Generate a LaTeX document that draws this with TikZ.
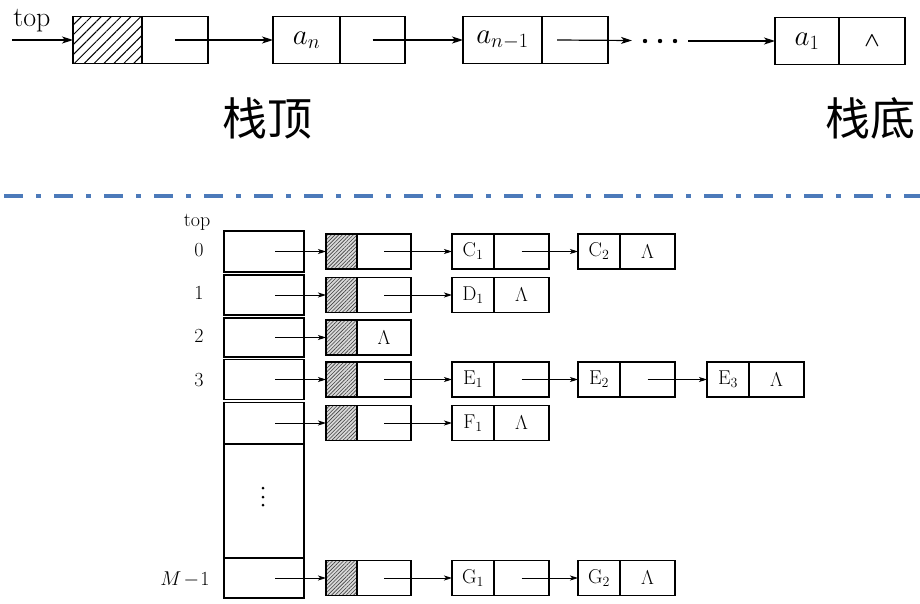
\RequirePackage{fix-cm}
\documentclass[tikz,border=0pt]{standalone}
\usepackage{fontspec}
\usepackage{amsmath}
\usepackage{xcolor}
\usepackage{tikz}
\usetikzlibrary{positioning,arrows.meta,patterns.meta}
\newfontfamily\cjk{Noto Sans CJK SC}
\definecolor{sepblue}{RGB}{76,122,186}

\tikzset{
  bigcell/.style={draw, line width=1.8pt, minimum height=47pt, inner sep=0pt, outer sep=0pt, font=\fontsize{29}{32}\selectfont},
  smallcell/.style={draw, line width=1.3pt, minimum height=35pt, inner sep=0pt, outer sep=0pt, font=\fontsize{20}{22}\selectfont},
  slot/.style={draw, line width=1.4pt, minimum width=80pt, inner sep=0pt, outer sep=0pt},
  bighatch/.style={pattern={Lines[angle=45,distance=7pt,line width=1pt]}},
  smallhatch/.style={preaction={fill=gray!30}, pattern={Lines[angle=45,distance=2.6pt,line width=0.6pt]}, pattern color=black!75},
  bigptr/.style={-{Stealth[length=11pt,width=7pt,inset=3pt]}, line width=1.2pt},
  ptr/.style={-{Stealth[length=8pt,width=5pt,inset=2pt]}, line width=0.9pt},
  lbl/.style={font=\fontsize{20}{22}\selectfont},
}

\begin{document}
\begin{tikzpicture}[x=1pt,y=-1pt]
        \useasboundingbox (0,0) rectangle (920,603);

        % linked stack
        \node[font=\fontsize{28}{30}\selectfont] (toptxt) at (32,21) {top};
        \coordinate (topin) at (12,40);
        \node[bigcell, bighatch, minimum width=69pt] (hd) at (107.5,40) {};
        \node[bigcell, minimum width=66pt, right=0pt of hd] (hdp) {};
        \node[bigcell, minimum width=67pt] (an) at (306.5,40) {$a_n$};
        \node[bigcell, minimum width=65pt, right=0pt of an] (anp) {};
        \node[bigcell, minimum width=79pt] (am) at (502.5,40) {$a_{n-1}$};
        \node[bigcell, minimum width=66pt, right=0pt of am] (amp) {};
        \node[bigcell, minimum width=64pt] (ao) at (807,41) {$a_1$};
        \node[bigcell, minimum width=66pt, right=0pt of ao, font=\fontsize{20}{22}\selectfont\boldmath] (aop) {$\wedge$};
        \coordinate (dotsin) at (632,40.5);
        \coordinate (dotsout) at (688,41);

        \draw [bigptr] (topin) -- (hd.west);
        \draw [bigptr] (hdp.center) -- (an.west);
        \draw [bigptr] (anp.center) -- (am.west);
        \draw [bigptr] ([xshift=-18pt]amp.center) -- (dotsin);
        \fill (645,41) circle (2.2pt) (660,41) circle (2.2pt) (675,41) circle (2.2pt);
        \draw [bigptr] (dotsout) -- (ao.west);

        \node[font=\cjk\fontsize{45}{50}\selectfont] (stop) at (267,118) {栈顶};
        \node[font=\cjk\fontsize{45}{50}\selectfont] (sbot) at (870,118) {栈底};

        % separator
        \draw [sepblue, line width=4pt, dash pattern=on 19pt off 13pt on 5pt off 13pt, dash phase=46pt] (0,196) -- (920,196);

        % shared stack of linked lists
        \node[lbl] (top2) at (197,222) {top};
        \node[lbl] (i0) at (199,250) {0};
        \node[lbl] (i1) at (199,293) {1};
        \node[lbl] (i2) at (199,336) {2};
        \node[lbl] (i3) at (199,380) {3};
        \node[lbl, anchor=east] (im) at (213,579) {$M\mkern2mu{-}\mkern1mu1$};

        \node[slot, minimum height=41pt] (r0) at (264,251.5) {};
        \node[slot, minimum height=40pt] (r1) at (264,295) {};
        \node[slot, minimum height=39pt] (r2) at (264,337.5) {};
        \node[slot, minimum height=40pt] (r3) at (264,379.5) {};
        \node[slot, minimum height=41pt] (r4) at (264,423) {};
        \node[slot, minimum height=114pt] (rd) at (264,501) {};
        \node[slot, minimum height=40pt] (rm) at (264,578) {};
        \fill (263,488) circle (1.5pt) (263,497) circle (1.5pt) (263,505) circle (1.5pt);

        \node[smallcell, smallhatch, minimum width=31pt] (h0) at (341.5,251.5) {};
        \node[smallcell, minimum width=54pt, right=0pt of h0] (h0p) {};
        \node[smallcell, smallhatch, minimum width=31pt] (h1) at (341.5,295) {};
        \node[smallcell, minimum width=54pt, right=0pt of h1] (h1p) {};
        \node[smallcell, smallhatch, minimum width=31pt] (h2) at (341.5,337.5) {};
        \node[smallcell, minimum width=54pt, right=0pt of h2] (h2p) {$\Lambda$};
        \node[smallcell, smallhatch, minimum width=31pt] (h3) at (341.5,379.5) {};
        \node[smallcell, minimum width=54pt, right=0pt of h3] (h3p) {};
        \node[smallcell, smallhatch, minimum width=31pt] (h4) at (341.5,423) {};
        \node[smallcell, minimum width=54pt, right=0pt of h4] (h4p) {};
        \node[smallcell, smallhatch, minimum width=31pt] (hm) at (341.5,578) {};
        \node[smallcell, minimum width=54pt, right=0pt of hm] (hmp) {};

        \node[smallcell, minimum width=42pt] (c1) at (473,251.5) {C$_1$};
        \node[smallcell, minimum width=55pt, right=0pt of c1] (c1p) {};
        \node[smallcell, minimum width=42pt] (c2) at (599,251.5) {C$_2$};
        \node[smallcell, minimum width=55pt, right=0pt of c2] (c2p) {$\Lambda$};
        \node[smallcell, minimum width=42pt] (d1) at (473,295) {D$_1$};
        \node[smallcell, minimum width=55pt, right=0pt of d1] (d1p) {$\Lambda$};
        \node[smallcell, minimum width=42pt] (e1) at (473,379.5) {E$_1$};
        \node[smallcell, minimum width=55pt, right=0pt of e1] (e1p) {};
        \node[smallcell, minimum width=42pt] (e2) at (599,379.5) {E$_2$};
        \node[smallcell, minimum width=55pt, right=0pt of e2] (e2p) {};
        \node[smallcell, minimum width=42pt] (e3) at (728,379.5) {E$_3$};
        \node[smallcell, minimum width=55pt, right=0pt of e3] (e3p) {$\Lambda$};
        \node[smallcell, minimum width=42pt] (f1) at (473,423) {F$_1$};
        \node[smallcell, minimum width=55pt, right=0pt of f1] (f1p) {$\Lambda$};
        \node[smallcell, minimum width=42pt] (g1) at (473,578) {G$_1$};
        \node[smallcell, minimum width=55pt, right=0pt of g1] (g1p) {};
        \node[smallcell, minimum width=42pt] (g2) at (599,578) {G$_2$};
        \node[smallcell, minimum width=55pt, right=0pt of g2] (g2p) {$\Lambda$};

        \draw [ptr] ([xshift=11pt]r0.center) -- (h0.west);
        \draw [ptr] ([xshift=11pt]r1.center) -- (h1.west);
        \draw [ptr] ([xshift=11pt]r2.center) -- (h2.west);
        \draw [ptr] ([xshift=11pt]r3.center) -- (h3.west);
        \draw [ptr] ([xshift=11pt]r4.center) -- (h4.west);
        \draw [ptr] ([xshift=11pt]rm.center) -- (hm.west);

        \draw [ptr] (h0p.center) -- (c1.west);
        \draw [ptr] (h1p.center) -- (d1.west);
        \draw [ptr] (h3p.center) -- (e1.west);
        \draw [ptr] (h4p.center) -- (f1.west);
        \draw [ptr] (hmp.center) -- (g1.west);

        \draw [ptr] (c1p.center) -- (c2.west);
        \draw [ptr] (e1p.center) -- (e2.west);
        \draw [ptr] (e2p.center) -- (e3.west);
        \draw [ptr] (g1p.center) -- (g2.west);
    \end{tikzpicture}
\end{document}
